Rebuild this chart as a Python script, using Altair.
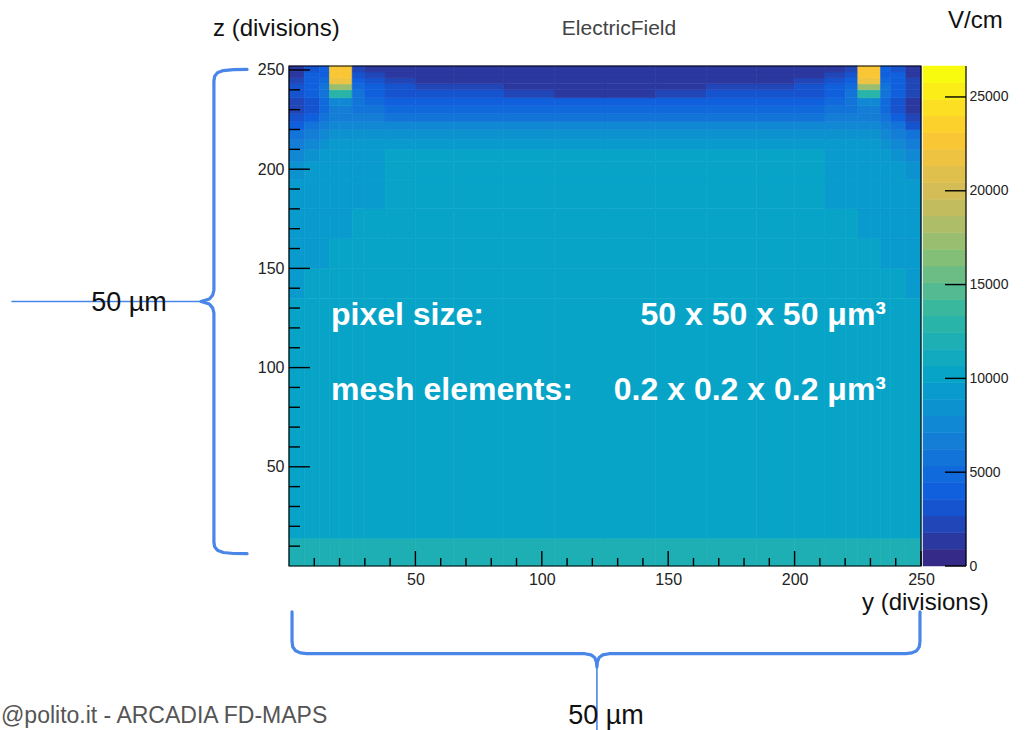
import altair as alt
import pandas as pd

# ---------------- data ----------------
# cell edges along y (horizontal, divisions) and z (vertical, divisions)
Y_EDGES = [0, 6, 12, 16, 20, 25, 30, 38, 50, 65, 85, 105, 125, 145, 165, 185, 200, 212, 220, 225, 230, 234, 238, 244, 250]
Z_EDGES = [0, 14, 135, 150, 165, 180, 195, 204, 210, 215, 220, 224, 228, 232, 236, 240, 243, 246, 249, 252]

# electric field (V/cm), one row per z band (bottom -> top), one value per y band
FIELD = [
    [12000, 12000, 12000, 12000, 12000, 12000, 12000, 12000, 12000, 12000, 12000, 12000, 12000, 12000, 12000, 12000, 12000, 12000, 12000, 12000, 12000, 12000, 12000, 12000],
    [10200, 10200, 10200, 10200, 10200, 10200, 10200, 10200, 10200, 10200, 10200, 10200, 10200, 10200, 10200, 10200, 10200, 10200, 10200, 10200, 10200, 10200, 10200, 10200],
    [9330, 10200, 10200, 10200, 10200, 10200, 10200, 10200, 10200, 10200, 10200, 10200, 10200, 10200, 10200, 10200, 10200, 10200, 10200, 10200, 10200, 10200, 10200, 9330],
    [9330, 9330, 9330, 10200, 10200, 10200, 10200, 10200, 10200, 10200, 10200, 10200, 10200, 10200, 10200, 10200, 10200, 10200, 10200, 10200, 10200, 9330, 9330, 9330],
    [9330, 9330, 9330, 9330, 9330, 10200, 10200, 10200, 10200, 10200, 10200, 10200, 10200, 10200, 10200, 10200, 10200, 10200, 10200, 9330, 9330, 9330, 9330, 9330],
    [9330, 9330, 9330, 9330, 9330, 9330, 9330, 10200, 10200, 10200, 10200, 10200, 10200, 10200, 10200, 10200, 10200, 9330, 9330, 9330, 9330, 9330, 9330, 9330],
    [8450, 9330, 9330, 9330, 9330, 9330, 9330, 10200, 10200, 10200, 10200, 10200, 10200, 10200, 10200, 10200, 10200, 9330, 9330, 9330, 9330, 9330, 9330, 8450],
    [7550, 8450, 9330, 9330, 9330, 9330, 9330, 10200, 10200, 10200, 10200, 10200, 10200, 10200, 10200, 10200, 10200, 9330, 9330, 9330, 9330, 9330, 8450, 7550],
    [6650, 7550, 8450, 9330, 9330, 9330, 9330, 9330, 9330, 9330, 9330, 9330, 9330, 9330, 9330, 9330, 9330, 9330, 9330, 9330, 9330, 8450, 7550, 6650],
    [5800, 6650, 7550, 8450, 8450, 8450, 8450, 8450, 8450, 8450, 8450, 8450, 8450, 8450, 8450, 8450, 8450, 8450, 8450, 8450, 8450, 7550, 6650, 5800],
    [4000, 5800, 6650, 7550, 7550, 7550, 7550, 7550, 7550, 7550, 7550, 7550, 7550, 7550, 7550, 7550, 7550, 7550, 7550, 7550, 7550, 6650, 5800, 3100],
    [2800, 4000, 5800, 6650, 6650, 6650, 6650, 6200, 6200, 6200, 6200, 6200, 6200, 6200, 6200, 6200, 6200, 6650, 6650, 6650, 6650, 5800, 4000, 2220],
    [2220, 3100, 4900, 6650, 6650, 6200, 5800, 4900, 4900, 4900, 4900, 4900, 4900, 4900, 4900, 4900, 4900, 5800, 6200, 6650, 6650, 4900, 3100, 1330],
    [2220, 3100, 4900, 7550, 7550, 5800, 4900, 4000, 3700, 3700, 3700, 3700, 3700, 3700, 3700, 3700, 4000, 4900, 5800, 7550, 7550, 4900, 3100, 1330],
    [2800, 3700, 5800, 12900, 12900, 5800, 4000, 3100, 2800, 2800, 2220, 1330, 1330, 2220, 2800, 2800, 3100, 4000, 5800, 12900, 12900, 5800, 3700, 2220],
    [2800, 4000, 5800, 17320, 17320, 4900, 3700, 2800, 2220, 2220, 1330, 1330, 1330, 1330, 2220, 2220, 2800, 3700, 4900, 17320, 17320, 5800, 4000, 2220],
    [2220, 4000, 4900, 21760, 21760, 3700, 2800, 2220, 1330, 1330, 1330, 1330, 1330, 1330, 1330, 1330, 2220, 2800, 3700, 21760, 21760, 4900, 4000, 2220],
    [1330, 3700, 4000, 22650, 22650, 2800, 2220, 1330, 1330, 1330, 1330, 1330, 1330, 1330, 1330, 1330, 1330, 2220, 2800, 22650, 22650, 4000, 3700, 1330],
    [1330, 2800, 4000, 22650, 22650, 2220, 1330, 1330, 1330, 1330, 1330, 1330, 1330, 1330, 1330, 1330, 1330, 1330, 2220, 22650, 22650, 4000, 2800, 1330],
]

Y_MAX = 250
Z_MAX = 252
CBAR_MAX = 26650
N_LEVELS = 30
AXIS_MAJOR = [50, 100, 150, 200, 250]
AXIS_MINOR = [10, 20, 30, 40, 60, 70, 80, 90, 110, 120, 130, 140, 160, 170, 180, 190, 210, 220, 230, 240]
CBAR_TICKS = [0, 5000, 10000, 15000, 20000, 25000]

# brace annotations (in axis units)
LB_U = [-16.6, -22.0, -26.0, -28.3, -29.4, -29.7, -29.7, -30.2, -31.5, -34.8, -31.5, -30.2, -29.7, -29.7, -29.4, -28.3, -26.0, -22.0, -16.6]
LB_Z = [250.3, 250.2, 249.7, 248.6, 246.8, 244.5, 139.0, 136.5, 134.6, 133.3, 132.0, 130.1, 127.6, 12.0, 9.7, 7.9, 6.8, 6.3, 6.2]
LP_U = [-109.6, -34.8]
LP_Z = [133.3, 133.3]
BB_U = [1.2, 1.2, 1.5, 2.6, 4.5, 7.0, 117.0, 119.5, 120.9, 121.6, 121.8, 122.0, 122.7, 124.1, 126.6, 244.0, 246.4, 248.3, 249.3, 249.6, 249.6]
BB_Z = [-23.1, -38.0, -40.8, -42.7, -43.8, -44.2, -44.2, -44.8, -46.1, -48.3, -51.0, -48.3, -46.1, -44.8, -44.2, -44.2, -43.8, -42.7, -40.8, -38.0, -23.1]
BP_U = [121.8, 121.8]
BP_Z = [-51.0, -83.0]

# ---------------- styling ----------------
FONT = "Liberation Sans, Arial, Helvetica, sans-serif"
W, H = 632, 500
X0, Y0 = 289, 66  # page position of the plot area

STOPS = [0.0, 0.125, 0.25, 0.375, 0.5, 0.625, 0.75, 0.875, 1.0]
RED = [0.2082, 0.0592, 0.0780, 0.0232, 0.1802, 0.5301, 0.8186, 0.9956, 0.9764]
GREEN = [0.1664, 0.3599, 0.5041, 0.6419, 0.7178, 0.7492, 0.7328, 0.7862, 0.9832]
BLUE = [0.5293, 0.8684, 0.8385, 0.7914, 0.6425, 0.4662, 0.3499, 0.1968, 0.0539]


def bird(t):
    for i in range(len(STOPS) - 1):
        if t <= STOPS[i + 1] + 1e-9:
            f = (t - STOPS[i]) / (STOPS[i + 1] - STOPS[i])
            r = RED[i] + f * (RED[i + 1] - RED[i])
            g = GREEN[i] + f * (GREEN[i + 1] - GREEN[i])
            b = BLUE[i] + f * (BLUE[i + 1] - BLUE[i])
            return "#%02x%02x%02x" % (round(r * 255), round(g * 255), round(b * 255))
    return "#f9fb0e"


COLORS = [bird(k / (N_LEVELS - 1)) for k in range(N_LEVELS)]


def cscale():
    return alt.Scale(type="quantize", domain=[0, CBAR_MAX], range=COLORS, nice=False)


def xscale():
    return alt.Scale(domain=[0, Y_MAX], nice=False, zero=False)


def zscale():
    return alt.Scale(domain=[0, Z_MAX], nice=False, zero=False)


def xaxis():
    return alt.Axis(values=AXIS_MAJOR, ticks=False, domain=False, grid=False, title=None,
                    labelFont=FONT, labelFontSize=16, labelColor="#222", labelPadding=5,
                    labelFlush=False, labelOverlap=False)


# ---------------- tables ----------------
cells = []
for ri in range(len(Z_EDGES) - 1):
    for ci in range(len(Y_EDGES) - 1):
        cells.append(dict(y0=Y_EDGES[ci], y1=Y_EDGES[ci + 1], z0=Z_EDGES[ri], z1=Z_EDGES[ri + 1], v=FIELD[ri][ci]))
cells = pd.DataFrame(cells)

step = CBAR_MAX / N_LEVELS
bands = pd.DataFrame([dict(lo=k * step, hi=(k + 1) * step, v=(k + 0.5) * step) for k in range(N_LEVELS)])

braces = []
for seg, us, zs, w in [("left", LB_U, LB_Z, 3.2), ("lp", LP_U, LP_Z, 1.4), ("bottom", BB_U, BB_Z, 3.2), ("bp", BP_U, BP_Z, 1.6)]:
    for i, (u, z) in enumerate(zip(us, zs)):
        braces.append(dict(seg=seg, i=i, u=u, zz=z, w=w))
braces = pd.DataFrame(braces)

# ---------------- layers ----------------
heat = alt.Chart(cells).mark_rect(strokeWidth=0.6).encode(
    x=alt.X("y0:Q", scale=xscale(), axis=xaxis()),
    x2="y1:Q",
    y=alt.Y("z0:Q", scale=zscale(), axis=alt.Axis(
        orient="left", values=AXIS_MAJOR, ticks=False, domain=False, grid=False, title=None,
        labelFont=FONT, labelFontSize=16, labelColor="#222", labelPadding=5,
        labelFlush=False, labelOverlap=False)),
    y2="z1:Q",
    color=alt.Color("v:Q", scale=cscale(), legend=None),
    stroke=alt.Stroke("v:Q", scale=cscale(), legend=None),
)

frame = alt.Chart(alt.Data(values=[{}])).mark_rect(fillOpacity=0, stroke="black", strokeWidth=1.2).encode(
    x=alt.value(0), x2=alt.value(W), y=alt.value(0), y2=alt.value(H))

xt_major = alt.Chart(pd.DataFrame({"t": AXIS_MAJOR})).mark_rule(color="black", strokeWidth=1.4).encode(
    x=alt.X("t:Q", scale=xscale(), axis=xaxis()), y=alt.value(H), y2=alt.value(H - 15))
xt_minor = alt.Chart(pd.DataFrame({"t": AXIS_MINOR})).mark_rule(color="black", strokeWidth=1.4).encode(
    x=alt.X("t:Q", scale=xscale(), axis=xaxis()), y=alt.value(H), y2=alt.value(H - 8))
zt_major = alt.Chart(pd.DataFrame({"t": AXIS_MAJOR})).mark_rule(color="black", strokeWidth=1.4).encode(
    y=alt.Y("t:Q", scale=zscale(), axis=None), x=alt.value(0), x2=alt.value(21))
zt_minor = alt.Chart(pd.DataFrame({"t": AXIS_MINOR})).mark_rule(color="black", strokeWidth=1.4).encode(
    y=alt.Y("t:Q", scale=zscale(), axis=None), x=alt.value(0), x2=alt.value(11))

CB_L, CB_R = 923 - X0, 966 - X0
cbar = alt.Chart(bands).mark_rect(strokeWidth=0.5).encode(
    x=alt.value(CB_L), x2=alt.value(CB_R),
    y=alt.Y("lo:Q", scale=alt.Scale(domain=[0, CBAR_MAX], nice=False, zero=False), axis=alt.Axis(
        orient="right", offset=CB_R - W, values=CBAR_TICKS, format="d", ticks=False, domain=False,
        grid=False, title=None, labelFont=FONT, labelFontSize=14, labelColor="#222", labelPadding=3,
        labelFlush=False, labelOverlap=False)),
    y2="hi:Q",
    color=alt.Color("v:Q", scale=cscale(), legend=None),
    stroke=alt.Stroke("v:Q", scale=cscale(), legend=None),
)
cbar_ticks = alt.Chart(pd.DataFrame({"t": CBAR_TICKS})).mark_rule(color="black", strokeWidth=1.4).encode(
    y=alt.Y("t:Q", scale=alt.Scale(domain=[0, CBAR_MAX], nice=False, zero=False), axis=None),
    x=alt.value(CB_R - 21), x2=alt.value(CB_R))
cbar_edge = alt.Chart(alt.Data(values=[{}])).mark_rule(color="black", strokeWidth=1.2).encode(
    x=alt.value(CB_R), y=alt.value(0), y2=alt.value(H))

brace_layer = alt.Chart(braces).mark_line(color="#4a86e8", clip=False, strokeCap="round", strokeJoin="round").encode(
    x=alt.X("u:Q", scale=xscale(), axis=xaxis()),
    y=alt.Y("zz:Q", scale=zscale(), axis=None),
    detail="seg:N",
    order="i:Q",
    strokeWidth=alt.StrokeWidth("w:Q", scale=None, legend=None),
)

ANNOTATIONS = [
    dict(text="z (divisions)", x=213, y=29, size=24, color="#111", align="left", weight="normal"),
    dict(text="ElectricField", x=619, y=29, size=21, color="#444", align="center", weight="normal"),
    dict(text="V/cm", x=948, y=21, size=24, color="#111", align="left", weight="normal"),
    dict(text="y (divisions)", x=862, y=603, size=24, color="#111", align="left", weight="normal"),
    dict(text="50 µm", x=129, y=303, size=27, color="#111", align="center", weight="normal"),
    dict(text="50 µm", x=606, y=716, size=27, color="#111", align="center", weight="normal"),
    dict(text="@polito.it - ARCADIA FD-MAPS", x=1, y=716, size=23, color="#555", align="left", weight="normal"),
    dict(text="pixel size:", x=331, y=315, size=32, color="white", align="left", weight="bold"),
    dict(text="mesh elements:", x=331, y=390, size=32, color="white", align="left", weight="bold"),
    dict(text="50 x 50 x 50 μm³", x=886, y=315, size=32, color="white", align="right", weight="bold"),
    dict(text="0.2 x 0.2 x 0.2 μm³", x=886, y=390, size=32, color="white", align="right", weight="bold"),
]

text_layers = []
for a in ANNOTATIONS:
    text_layers.append(
        alt.Chart(alt.Data(values=[{}])).mark_text(
            text=a["text"], font=FONT, fontSize=a["size"], color=a["color"], align=a["align"],
            baseline="middle", fontWeight=a["weight"],
        ).encode(x=alt.value(a["x"] - X0), y=alt.value(a["y"] - Y0))
    )

chart = alt.layer(
    heat, frame, xt_major, xt_minor, zt_major, zt_minor,
    cbar, cbar_ticks, cbar_edge, brace_layer, *text_layers,
).resolve_scale(y="independent").properties(
    width=W, height=H,
    autosize=alt.AutoSizeParams(type="none"),
    padding={"left": X0, "top": Y0, "right": 1029 - X0 - W, "bottom": 730 - Y0 - H},
    background="white",
).configure_view(stroke=None)

chart.save("out.html", embed_options={"renderer": "svg", "actions": False})
